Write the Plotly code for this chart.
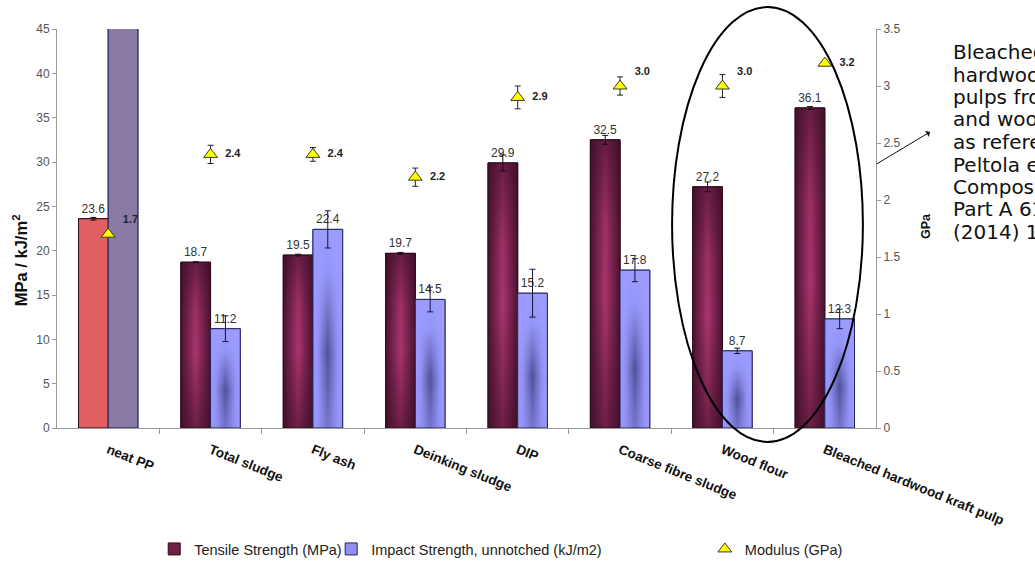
import plotly.graph_objects as go

# ---- data -------------------------------------------------------------
categories = [
    "neat PP", "Total sludge", "Fly ash", "Deinking sludge", "DIP",
    "Coarse fibre sludge", "Wood flour", "Bleached hardwood kraft pulp",
]
tensile = [23.6, 18.7, 19.5, 19.7, 29.9, 32.5, 27.2, 36.1]          # MPa
tensile_err = [0.15, 0.05, 0.1, 0.1, 0.9, 0.5, 0.55, 0.15]
impact = [50.0, 11.2, 22.4, 14.5, 15.2, 17.8, 8.7, 12.3]             # kJ/m2
impact_err = [0.0, 1.45, 2.1, 1.4, 2.7, 1.3, 0.3, 1.1]
modulus = [1.7, 2.4, 2.4, 2.2, 2.9, 3.0, 3.0, 3.2]                   # GPa
modulus_err = [0.0, 0.08, 0.06, 0.08, 0.1, 0.08, 0.1, 0.0]
modulus_textpos = ["top right", "middle right", "middle right", "middle right",
                   "middle right", "top right", "top right", "middle right"]

note_lines = [
    "Bleached", "hardwood kraft", "pulps from mills", "and wood flour",
    "as reference:", "Peltola et al.,", "Composites", "Part A 61",
    "(2014) 13-22",
]

# ---- styling ----------------------------------------------------------
FONT = "Arial, 'Liberation Sans', sans-serif"
NOTE_FONT = "'DejaVu Sans', Arial, sans-serif"
BAR_W = 0.29
AXIS_GREY = "#9a9a9a"
TENSILE_EDGE = "#2b0d1d"
IMPACT_EDGE = "#23235a"
NEAT_COLORS = ("#e06062", "#8a7aa6")   # plain PP bars (tensile, impact)

# two-layer shading for each bar face: a horizontal base and a vertical veil
TENSILE_BASE = [[0, "#4a1230"], [0.5, "#aa356f"], [1, "#4a1230"]]
TENSILE_VEIL = [[0, "rgba(60,14,38,0.55)"], [0.45, "rgba(60,14,38,0)"],
                [0.7, "rgba(60,14,38,0.1)"], [1, "rgba(60,14,38,0.6)"]]
IMPACT_BASE = [[0, "#9c9cff"], [0.18, "#9090f4"], [0.5, "#50509a"],
               [0.82, "#9090f4"], [1, "#9c9cff"]]
IMPACT_VEIL = [[0, "rgba(150,150,248,0.5)"], [0.38, "rgba(156,156,255,0)"],
               [0.78, "rgba(156,156,255,0.9)"], [1, "rgba(156,156,255,1)"]]

x_idx = list(range(len(categories)))

fig = go.Figure()

# Bars (legend, hover and value labels)
fig.add_trace(go.Bar(
    name="Tensile Strength (MPa)", x=x_idx, y=tensile,
    width=BAR_W, offset=-BAR_W, legend="legend",
    marker=dict(color="#6e1f48", line=dict(color=TENSILE_EDGE, width=1)),
    text=[f"{v:.1f}" for v in tensile], textposition="outside",
    constraintext="none",
    textfont=dict(family=FONT, size=12, color="#333333"),
))
fig.add_trace(go.Bar(
    name="Impact Strength, unnotched (kJ/m2)", x=x_idx, y=impact,
    width=BAR_W, offset=0, legend="legend2",
    marker=dict(color="#9090f0", line=dict(color=IMPACT_EDGE, width=1)),
    text=[""] + [f"{v:.1f}" for v in impact[1:]], textposition="outside",
    constraintext="none",
    textfont=dict(family=FONT, size=12, color="#333333"),
))


def bar_face(x0, x1, v, **style):
    return go.Scatter(
        x=[x0, x0, x1, x1, x0], y=[0, v, v, 0, 0],
        mode="lines", fill="toself",
        showlegend=False, hoverinfo="skip", **style,
    )


# Shaded bar faces drawn over the bars
for i, (t, m) in enumerate(zip(tensile, impact)):
    for x0, x1, v, edge, base, veil, flat in (
        (i - BAR_W, i, t, TENSILE_EDGE, TENSILE_BASE, TENSILE_VEIL, NEAT_COLORS[0]),
        (i, i + BAR_W, m, IMPACT_EDGE, IMPACT_BASE, IMPACT_VEIL, NEAT_COLORS[1]),
    ):
        if i == 0:
            fig.add_trace(bar_face(x0, x1, v, fillcolor=flat,
                                   line=dict(color=edge, width=1)))
            continue
        fig.add_trace(bar_face(
            x0, x1, v, line=dict(width=0),
            fillgradient=dict(type="horizontal", colorscale=base)))
        fig.add_trace(bar_face(
            x0, x1, v, line=dict(color=edge, width=1),
            fillgradient=dict(type="vertical", colorscale=veil)))

# Error bars for both bar series
for xs, ys, errs, col in (
    ([i - BAR_W / 2 for i in x_idx], tensile, tensile_err, "#1c0a14"),
    ([i + BAR_W / 2 for i in x_idx][1:], impact[1:], impact_err[1:], "#14143c"),
):
    fig.add_trace(go.Scatter(
        x=xs, y=ys, mode="markers",
        marker=dict(size=2, opacity=0),
        error_y=dict(type="data", array=errs, color=col, thickness=1, width=3),
        showlegend=False, hoverinfo="skip",
    ))

# Modulus on the secondary axis
fig.add_trace(go.Scatter(
    name="Modulus (GPa)", x=x_idx, y=modulus, yaxis="y2",
    legend="legend3",
    mode="markers+text",
    marker=dict(symbol="triangle-up", size=12, color="#ffff00",
                line=dict(color="#3a3a2a", width=1)),
    error_y=dict(type="data", array=modulus_err, color="#222222",
                 thickness=1, width=3),
    text=[f"<b>&nbsp;&nbsp;{v:.1f}</b>" for v in modulus],
    textposition=modulus_textpos,
    textfont=dict(family=FONT, size=11, color="#222222"),
))

axis_common = dict(
    showline=True, linecolor=AXIS_GREY, linewidth=1,
    ticks="outside", ticklen=4, tickcolor=AXIS_GREY,
    showgrid=False, zeroline=False,
    tickfont=dict(family=FONT, size=12, color="#555555"),
)


def legend_box(x):
    return dict(
        orientation="h", xref="container", yref="container",
        x=x, xanchor="left", y=0.0283, yanchor="middle",
        font=dict(family=FONT, size=14.5, color="#222222"),
        itemwidth=30, bgcolor="rgba(0,0,0,0)",
    )


# Side note, one annotation per line
NOTE_TOP = 52          # px from the top of the figure, first line centre
NOTE_STEP = 22.5       # px between lines
note_annots = [
    dict(text=line, xref="paper", yref="paper",
         x=1.0915, y=(428 - (NOTE_TOP + k * NOTE_STEP)) / 399,
         xanchor="left", yanchor="middle", align="left", showarrow=False,
         font=dict(family=NOTE_FONT, size=20, color="#111111"))
    for k, line in enumerate(note_lines)
]

fig.update_layout(
    width=1035, height=565,
    margin=dict(l=57, r=159, t=29, b=137, autoexpand=False),
    paper_bgcolor="white", plot_bgcolor="white",
    barmode="overlay",
    font=dict(family=FONT),
    xaxis=dict(
        range=[-0.5, len(categories) - 0.5],
        tickmode="array", tickvals=x_idx, ticktext=categories,
        tickangle=22, ticks="",
        tickfont=dict(family=FONT, size=13.5, color="#111111", weight="bold"),
        showline=True, linecolor=AXIS_GREY, showgrid=False, zeroline=False,
        ticklabelstandoff=8,
        minor=dict(tickmode="array",
                   tickvals=[i + 0.5 for i in x_idx[:-1]],
                   ticks="outside", ticklen=5, tickcolor=AXIS_GREY,
                   showgrid=False),
    ),
    yaxis=dict(range=[0, 45], dtick=5, **axis_common),
    yaxis2=dict(range=[0, 3.5], dtick=0.5, overlaying="y", side="right",
                **axis_common),
    legend=legend_box(0.149),
    legend2=legend_box(0.320),
    legend3=legend_box(0.681),
    annotations=[
        dict(text="<b>MPa / kJ/m<sup>2</sup></b>", textangle=-90,
             xref="paper", yref="paper", x=-0.045, y=0.421,
             xanchor="center", yanchor="middle", showarrow=False,
             font=dict(family=FONT, size=16.5, color="#111111")),
        dict(text="<b>GPa</b>", textangle=-90,
             xref="paper", yref="paper", x=1.061, y=0.506,
             xanchor="center", yanchor="middle", showarrow=False,
             font=dict(family=FONT, size=12.5, color="#111111")),
        dict(text="", xref="paper", yref="paper", x=1.066, y=0.742,
             ax=-55, ay=33, showarrow=True, arrowhead=1, arrowsize=1.2,
             arrowwidth=1, arrowcolor="#111111"),
    ] + note_annots,
    shapes=[
        dict(type="circle", xref="paper", yref="paper",
             x0=0.751, x1=0.984, y0=-0.035, y1=1.055,
             line=dict(color="#000000", width=2)),
    ],
)

fig.write_html("out.html")
